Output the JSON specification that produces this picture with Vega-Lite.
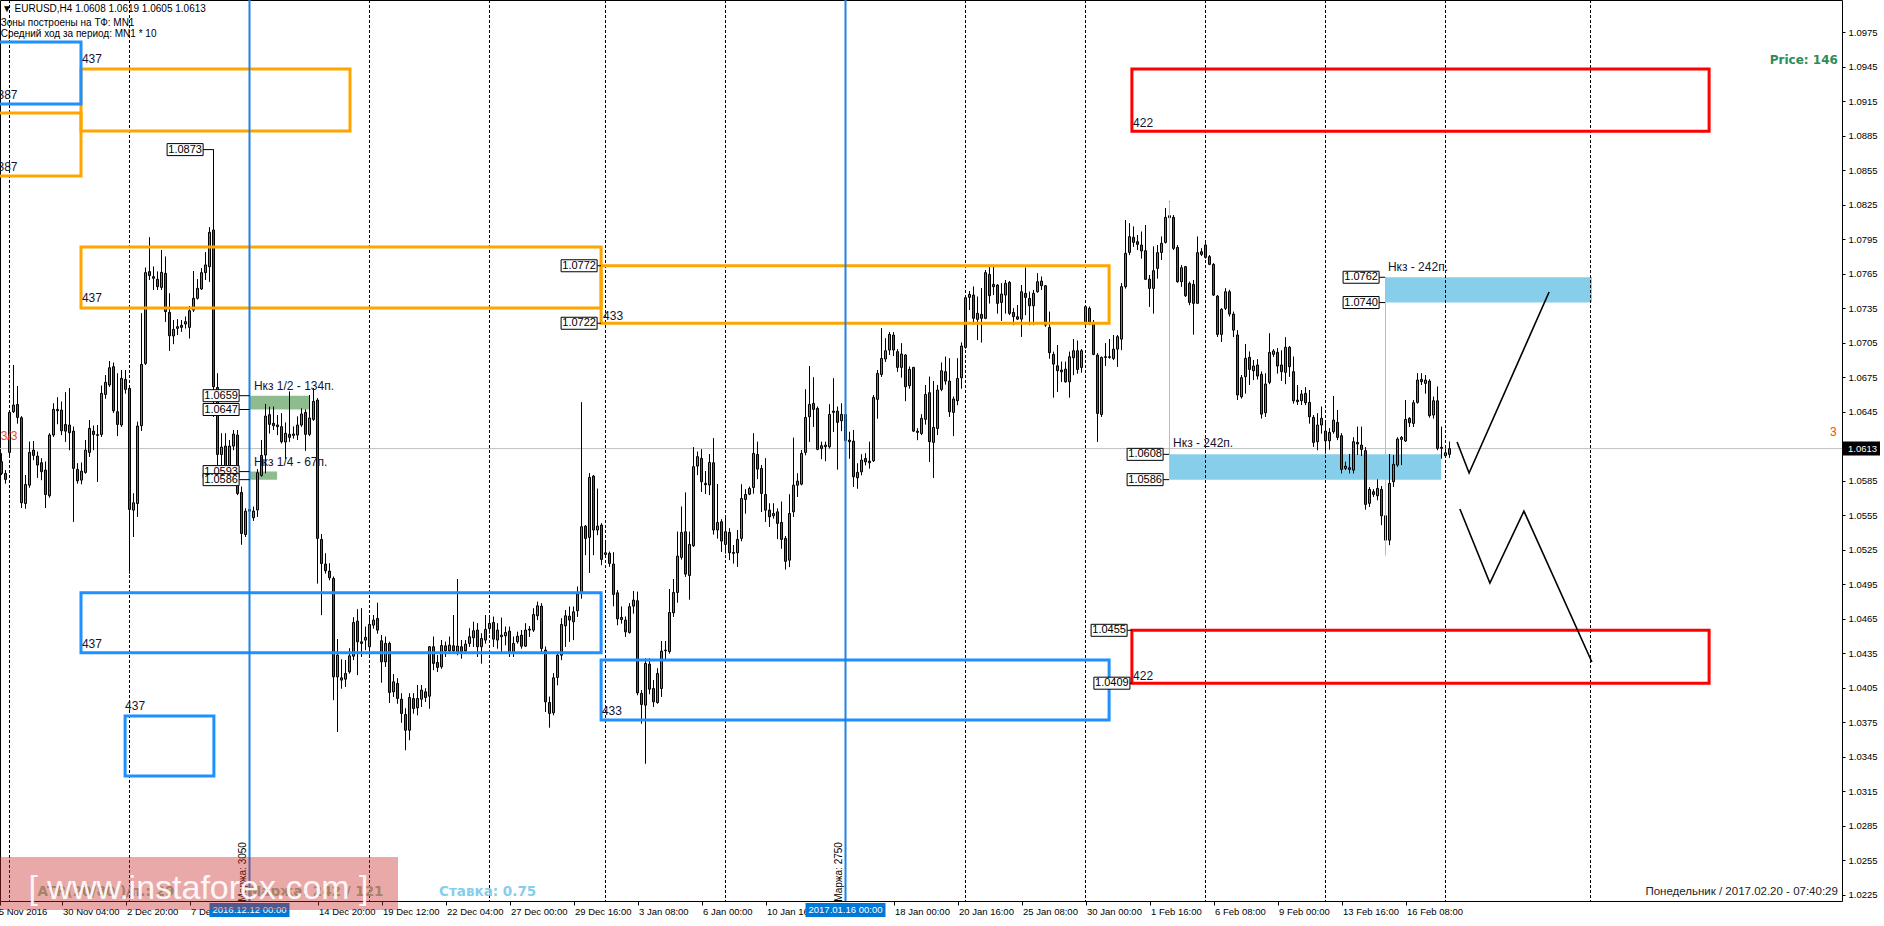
{
"$schema": "https://vega.github.io/schema/vega-lite/v6.json",
"width": 1842, "height": 901,
"autosize": {"type": "none"},
"padding": {"left": 0, "top": 0, "right": 42, "bottom": 25},
"background": "white",
"config": {"view": {"stroke": "#000", "strokeWidth": 1}, "axis": {"labelOverlap": false, "labelSeparation": 0}},
"datasets": {
"candles": [
{"i":-2,"o":1.06016,"h":1.06088,"l":1.059,"c":1.05914},
{"i":-1,"o":1.05914,"h":1.05943,"l":1.05827,"c":1.05862},
{"i":0,"o":1.06097,"h":1.06451,"l":1.06074,"c":1.06445},
{"i":1,"o":1.06451,"h":1.06857,"l":1.06442,"c":1.06509},
{"i":2,"o":1.06514,"h":1.06674,"l":1.06349,"c":1.06401},
{"i":3,"o":1.06398,"h":1.0641,"l":1.05615,"c":1.05659},
{"i":4,"o":1.05653,"h":1.059,"l":1.05609,"c":1.05818},
{"i":5,"o":1.05812,"h":1.0619,"l":1.05792,"c":1.06097},
{"i":6,"o":1.06117,"h":1.06195,"l":1.0603,"c":1.06071},
{"i":7,"o":1.06065,"h":1.06103,"l":1.05877,"c":1.05987},
{"i":8,"o":1.06007,"h":1.06045,"l":1.05856,"c":1.05929},
{"i":9,"o":1.05943,"h":1.06016,"l":1.05615,"c":1.05731},
{"i":10,"o":1.0572,"h":1.06262,"l":1.05705,"c":1.06248},
{"i":11,"o":1.06248,"h":1.06523,"l":1.06233,"c":1.06471},
{"i":12,"o":1.06471,"h":1.06575,"l":1.06343,"c":1.06459},
{"i":13,"o":1.06465,"h":1.06538,"l":1.06248,"c":1.06285},
{"i":14,"o":1.0634,"h":1.06619,"l":1.0619,"c":1.06282},
{"i":15,"o":1.06335,"h":1.06654,"l":1.06117,"c":1.06268},
{"i":16,"o":1.06282,"h":1.0632,"l":1.05494,"c":1.05958},
{"i":17,"o":1.05949,"h":1.06001,"l":1.05827,"c":1.0585},
{"i":18,"o":1.05856,"h":1.06007,"l":1.05821,"c":1.05934},
{"i":19,"o":1.05923,"h":1.06204,"l":1.05914,"c":1.06117},
{"i":20,"o":1.06097,"h":1.06378,"l":1.06059,"c":1.06306},
{"i":21,"o":1.06282,"h":1.06329,"l":1.06117,"c":1.06253},
{"i":22,"o":1.06245,"h":1.06335,"l":1.05841,"c":1.06251},
{"i":23,"o":1.06253,"h":1.06677,"l":1.06233,"c":1.0661},
{"i":24,"o":1.06601,"h":1.06769,"l":1.06566,"c":1.06706},
{"i":25,"o":1.06683,"h":1.06891,"l":1.06668,"c":1.06833},
{"i":26,"o":1.06842,"h":1.06877,"l":1.06442,"c":1.06459},
{"i":27,"o":1.06451,"h":1.06784,"l":1.06239,"c":1.0634},
{"i":28,"o":1.06335,"h":1.06813,"l":1.0632,"c":1.06741},
{"i":29,"o":1.06732,"h":1.06813,"l":1.0661,"c":1.06645},
{"i":30,"o":1.06654,"h":1.06668,"l":1.05044,"c":1.05601},
{"i":31,"o":1.05595,"h":1.0574,"l":1.05363,"c":1.05659},
{"i":32,"o":1.05653,"h":1.06363,"l":1.05537,"c":1.06326},
{"i":33,"o":1.06329,"h":1.07306,"l":1.06285,"c":1.06862},
{"i":34,"o":1.06871,"h":1.07703,"l":1.06857,"c":1.0766},
{"i":35,"o":1.07669,"h":1.07967,"l":1.07596,"c":1.07634},
{"i":36,"o":1.07625,"h":1.07712,"l":1.07509,"c":1.07611},
{"i":37,"o":1.07602,"h":1.07669,"l":1.07509,"c":1.07538},
{"i":38,"o":1.07532,"h":1.07857,"l":1.07509,"c":1.07663},
{"i":39,"o":1.07654,"h":1.07799,"l":1.07234,"c":1.07321},
{"i":40,"o":1.07315,"h":1.0748,"l":1.06981,"c":1.07112},
{"i":41,"o":1.07109,"h":1.07248,"l":1.07039,"c":1.07167},
{"i":42,"o":1.07176,"h":1.07254,"l":1.07118,"c":1.0719},
{"i":43,"o":1.07202,"h":1.07248,"l":1.07147,"c":1.07184},
{"i":44,"o":1.07213,"h":1.07277,"l":1.07176,"c":1.07234},
{"i":45,"o":1.07184,"h":1.0737,"l":1.07089,"c":1.07329},
{"i":46,"o":1.07335,"h":1.07674,"l":1.07321,"c":1.07437},
{"i":47,"o":1.07437,"h":1.07602,"l":1.07428,"c":1.07524},
{"i":48,"o":1.07518,"h":1.07698,"l":1.07509,"c":1.0766},
{"i":49,"o":1.0766,"h":1.07837,"l":1.07596,"c":1.07727},
{"i":50,"o":1.07712,"h":1.08054,"l":1.07581,"c":1.08011},
{"i":51,"o":1.08031,"h":1.0873,"l":1.06407,"c":1.06668},
{"i":52,"o":1.06662,"h":1.06784,"l":1.059,"c":1.06079},
{"i":53,"o":1.06079,"h":1.06262,"l":1.05943,"c":1.06143},
{"i":54,"o":1.06152,"h":1.06262,"l":1.05885,"c":1.059},
{"i":55,"o":1.05914,"h":1.06204,"l":1.059,"c":1.06152},
{"i":56,"o":1.06152,"h":1.06291,"l":1.06117,"c":1.06256},
{"i":57,"o":1.06248,"h":1.06291,"l":1.05726,"c":1.0574},
{"i":58,"o":1.05749,"h":1.05798,"l":1.05296,"c":1.05392},
{"i":59,"o":1.05383,"h":1.05609,"l":1.05363,"c":1.05586},
{"i":60,"o":1.05586,"h":1.0565,"l":1.0552,"c":1.056},
{"i":61,"o":1.05529,"h":1.05624,"l":1.05503,"c":1.05587},
{"i":62,"o":1.05596,"h":1.05949,"l":1.05537,"c":1.0592},
{"i":63,"o":1.05897,"h":1.06205,"l":1.05886,"c":1.06071},
{"i":64,"o":1.06074,"h":1.06518,"l":1.05915,"c":1.06413},
{"i":65,"o":1.06425,"h":1.06495,"l":1.06263,"c":1.06341},
{"i":66,"o":1.0635,"h":1.06495,"l":1.06292,"c":1.06329},
{"i":67,"o":1.06335,"h":1.06422,"l":1.06248,"c":1.06321},
{"i":68,"o":1.06321,"h":1.06437,"l":1.06176,"c":1.0619},
{"i":69,"o":1.06187,"h":1.06355,"l":1.06039,"c":1.06263},
{"i":70,"o":1.06254,"h":1.06625,"l":1.0619,"c":1.06228},
{"i":71,"o":1.06245,"h":1.06321,"l":1.06219,"c":1.06257},
{"i":72,"o":1.06248,"h":1.06408,"l":1.06205,"c":1.06335},
{"i":73,"o":1.06335,"h":1.0648,"l":1.06321,"c":1.06431},
{"i":74,"o":1.06445,"h":1.06471,"l":1.06112,"c":1.06254},
{"i":75,"o":1.06254,"h":1.06596,"l":1.06239,"c":1.06396},
{"i":76,"o":1.06384,"h":1.06654,"l":1.06373,"c":1.06541},
{"i":77,"o":1.06552,"h":1.06567,"l":1.04958,"c":1.05349},
{"i":78,"o":1.0534,"h":1.05387,"l":1.04682,"c":1.05131},
{"i":79,"o":1.05126,"h":1.05218,"l":1.05045,"c":1.05068},
{"i":80,"o":1.05065,"h":1.05131,"l":1.04986,"c":1.05007},
{"i":81,"o":1.05001,"h":1.05016,"l":1.03943,"c":1.04145},
{"i":82,"o":1.04145,"h":1.04473,"l":1.03667,"c":1.04334},
{"i":83,"o":1.04137,"h":1.04297,"l":1.04044,"c":1.04117},
{"i":84,"o":1.04125,"h":1.04291,"l":1.04059,"c":1.04175},
{"i":85,"o":1.04189,"h":1.04392,"l":1.04175,"c":1.04328},
{"i":86,"o":1.04325,"h":1.04662,"l":1.04291,"c":1.04618},
{"i":87,"o":1.0463,"h":1.04732,"l":1.04161,"c":1.0445},
{"i":88,"o":1.0445,"h":1.0474,"l":1.0432,"c":1.04436},
{"i":89,"o":1.04465,"h":1.04581,"l":1.04378,"c":1.04489},
{"i":90,"o":1.04407,"h":1.04668,"l":1.04334,"c":1.04601},
{"i":91,"o":1.04595,"h":1.04682,"l":1.04566,"c":1.04639},
{"i":92,"o":1.04653,"h":1.04789,"l":1.04523,"c":1.04552},
{"i":93,"o":1.04459,"h":1.04508,"l":1.04096,"c":1.04276},
{"i":94,"o":1.04276,"h":1.04494,"l":1.04233,"c":1.04436},
{"i":95,"o":1.04436,"h":1.0445,"l":1.03919,"c":1.0401},
{"i":96,"o":1.04015,"h":1.04169,"l":1.03972,"c":1.04102},
{"i":97,"o":1.04088,"h":1.04131,"l":1.03913,"c":1.03957},
{"i":98,"o":1.03951,"h":1.04001,"l":1.03748,"c":1.03827},
{"i":99,"o":1.03818,"h":1.0387,"l":1.03508,"c":1.03681},
{"i":100,"o":1.03681,"h":1.04001,"l":1.03595,"c":1.03966},
{"i":101,"o":1.03957,"h":1.04001,"l":1.03827,"c":1.0387},
{"i":102,"o":1.03876,"h":1.04073,"l":1.03812,"c":1.03957},
{"i":103,"o":1.03951,"h":1.04073,"l":1.03884,"c":1.0403},
{"i":104,"o":1.04015,"h":1.04044,"l":1.03928,"c":1.03966},
{"i":105,"o":1.03977,"h":1.04413,"l":1.0387,"c":1.04407},
{"i":106,"o":1.04407,"h":1.04494,"l":1.04204,"c":1.04262},
{"i":107,"o":1.0427,"h":1.04334,"l":1.04189,"c":1.04227},
{"i":108,"o":1.04233,"h":1.04465,"l":1.04218,"c":1.04418},
{"i":109,"o":1.04415,"h":1.0445,"l":1.0432,"c":1.04372},
{"i":110,"o":1.04372,"h":1.04494,"l":1.04349,"c":1.04421},
{"i":111,"o":1.04415,"h":1.04682,"l":1.04349,"c":1.04372},
{"i":112,"o":1.04363,"h":1.04995,"l":1.04334,"c":1.04413},
{"i":113,"o":1.04407,"h":1.04465,"l":1.04305,"c":1.04363},
{"i":114,"o":1.04372,"h":1.04465,"l":1.04355,"c":1.0443},
{"i":115,"o":1.04436,"h":1.04566,"l":1.04407,"c":1.04494},
{"i":116,"o":1.04485,"h":1.04624,"l":1.04407,"c":1.04546},
{"i":117,"o":1.04552,"h":1.0461,"l":1.0432,"c":1.04407},
{"i":118,"o":1.04407,"h":1.04523,"l":1.04262,"c":1.04479},
{"i":119,"o":1.04465,"h":1.04682,"l":1.04436,"c":1.04558},
{"i":120,"o":1.04566,"h":1.04653,"l":1.04523,"c":1.0461},
{"i":121,"o":1.04618,"h":1.04668,"l":1.04407,"c":1.04473},
{"i":122,"o":1.04465,"h":1.0461,"l":1.04392,"c":1.04552},
{"i":123,"o":1.04494,"h":1.04659,"l":1.04363,"c":1.04508},
{"i":124,"o":1.04502,"h":1.04581,"l":1.04421,"c":1.04531},
{"i":125,"o":1.04543,"h":1.04581,"l":1.0432,"c":1.04349},
{"i":126,"o":1.04354,"h":1.04494,"l":1.0432,"c":1.04436},
{"i":127,"o":1.0445,"h":1.04537,"l":1.04436,"c":1.04499},
{"i":128,"o":1.04508,"h":1.04552,"l":1.04392,"c":1.04412},
{"i":129,"o":1.04412,"h":1.0461,"l":1.04407,"c":1.04552},
{"i":130,"o":1.04552,"h":1.04586,"l":1.04494,"c":1.0456},
{"i":131,"o":1.04552,"h":1.0474,"l":1.04537,"c":1.04688},
{"i":132,"o":1.04676,"h":1.04798,"l":1.04639,"c":1.04763},
{"i":133,"o":1.0476,"h":1.04784,"l":1.04349,"c":1.04392},
{"i":134,"o":1.04378,"h":1.04407,"l":1.03841,"c":1.03928},
{"i":135,"o":1.03922,"h":1.03972,"l":1.03705,"c":1.03827},
{"i":136,"o":1.03832,"h":1.04175,"l":1.03812,"c":1.04137},
{"i":137,"o":1.0414,"h":1.04363,"l":1.04073,"c":1.04334},
{"i":138,"o":1.04334,"h":1.04653,"l":1.04291,"c":1.04601},
{"i":139,"o":1.04589,"h":1.04726,"l":1.04407,"c":1.04676},
{"i":140,"o":1.04673,"h":1.04755,"l":1.0445,"c":1.04639},
{"i":141,"o":1.04624,"h":1.04755,"l":1.04465,"c":1.04711},
{"i":142,"o":1.0472,"h":1.04929,"l":1.04668,"c":1.04865},
{"i":143,"o":1.04876,"h":1.06532,"l":1.04827,"c":1.05451},
{"i":144,"o":1.05456,"h":1.05465,"l":1.05204,"c":1.05349},
{"i":145,"o":1.05358,"h":1.05915,"l":1.0505,"c":1.0588},
{"i":146,"o":1.05891,"h":1.059,"l":1.05204,"c":1.05422},
{"i":147,"o":1.05422,"h":1.05781,"l":1.05378,"c":1.05456},
{"i":148,"o":1.05465,"h":1.0548,"l":1.05117,"c":1.05166},
{"i":149,"o":1.0521,"h":1.0532,"l":1.0519,"c":1.05224},
{"i":150,"o":1.05219,"h":1.05233,"l":1.05103,"c":1.05132},
{"i":151,"o":1.05126,"h":1.05227,"l":1.0476,"c":1.04862},
{"i":152,"o":1.04876,"h":1.049,"l":1.04595,"c":1.0465},
{"i":153,"o":1.04662,"h":1.04755,"l":1.0461,"c":1.04644},
{"i":154,"o":1.04639,"h":1.04668,"l":1.04494,"c":1.04537},
{"i":155,"o":1.04531,"h":1.04784,"l":1.04523,"c":1.04755},
{"i":156,"o":1.0476,"h":1.04891,"l":1.04697,"c":1.04813},
{"i":157,"o":1.04807,"h":1.04885,"l":1.03986,"c":1.04006},
{"i":158,"o":1.04001,"h":1.0403,"l":1.0374,"c":1.03905},
{"i":159,"o":1.03899,"h":1.04305,"l":1.03392,"c":1.04262},
{"i":160,"o":1.04256,"h":1.04305,"l":1.03995,"c":1.04038},
{"i":161,"o":1.04044,"h":1.04117,"l":1.03885,"c":1.03928},
{"i":162,"o":1.03922,"h":1.04218,"l":1.03914,"c":1.04175},
{"i":163,"o":1.04044,"h":1.04456,"l":1.03972,"c":1.04369},
{"i":164,"o":1.04372,"h":1.04456,"l":1.04296,"c":1.04378},
{"i":165,"o":1.04366,"h":1.04908,"l":1.04349,"c":1.04705},
{"i":166,"o":1.04702,"h":1.04995,"l":1.04668,"c":1.04879},
{"i":167,"o":1.04879,"h":1.05407,"l":1.04792,"c":1.05195},
{"i":168,"o":1.05184,"h":1.05625,"l":1.05166,"c":1.05401},
{"i":169,"o":1.05407,"h":1.05747,"l":1.05016,"c":1.05039},
{"i":170,"o":1.05027,"h":1.05407,"l":1.04818,"c":1.05297},
{"i":171,"o":1.05285,"h":1.06141,"l":1.05277,"c":1.05973},
{"i":172,"o":1.05978,"h":1.06103,"l":1.059,"c":1.0606},
{"i":173,"o":1.06045,"h":1.06123,"l":1.05755,"c":1.05842},
{"i":174,"o":1.05828,"h":1.05935,"l":1.05735,"c":1.05816},
{"i":175,"o":1.05813,"h":1.06083,"l":1.05726,"c":1.0601},
{"i":176,"o":1.06007,"h":1.06219,"l":1.05384,"c":1.05422},
{"i":177,"o":1.05422,"h":1.05822,"l":1.05349,"c":1.05488},
{"i":178,"o":1.05494,"h":1.05514,"l":1.05233,"c":1.05326},
{"i":179,"o":1.05297,"h":1.05543,"l":1.05219,"c":1.05407},
{"i":180,"o":1.05401,"h":1.05436,"l":1.05161,"c":1.05224},
{"i":181,"o":1.05227,"h":1.05291,"l":1.05132,"c":1.05219},
{"i":182,"o":1.05224,"h":1.05422,"l":1.05103,"c":1.0534},
{"i":183,"o":1.05349,"h":1.05818,"l":1.05325,"c":1.05696},
{"i":184,"o":1.05688,"h":1.05775,"l":1.05566,"c":1.05731},
{"i":185,"o":1.05734,"h":1.05798,"l":1.05726,"c":1.05783},
{"i":186,"o":1.05792,"h":1.06262,"l":1.0574,"c":1.06088},
{"i":187,"o":1.06079,"h":1.06189,"l":1.05865,"c":1.05952},
{"i":188,"o":1.05958,"h":1.05987,"l":1.0558,"c":1.0574},
{"i":189,"o":1.05731,"h":1.06045,"l":1.05494,"c":1.05595},
{"i":190,"o":1.05595,"h":1.05653,"l":1.0545,"c":1.05537},
{"i":191,"o":1.05546,"h":1.05653,"l":1.05523,"c":1.05566},
{"i":192,"o":1.0558,"h":1.05609,"l":1.05343,"c":1.05479},
{"i":193,"o":1.05488,"h":1.05668,"l":1.05261,"c":1.0534},
{"i":194,"o":1.05349,"h":1.0537,"l":1.0508,"c":1.0515},
{"i":195,"o":1.0516,"h":1.05731,"l":1.051,"c":1.05566},
{"i":196,"o":1.0558,"h":1.06224,"l":1.05537,"c":1.05812},
{"i":197,"o":1.05812,"h":1.05914,"l":1.05711,"c":1.05847},
{"i":198,"o":1.05821,"h":1.06117,"l":1.05812,"c":1.06088},
{"i":199,"o":1.06097,"h":1.06645,"l":1.06073,"c":1.06401},
{"i":200,"o":1.06407,"h":1.06848,"l":1.0619,"c":1.06514},
{"i":201,"o":1.06523,"h":1.06749,"l":1.0632,"c":1.06471},
{"i":202,"o":1.06479,"h":1.06494,"l":1.06117,"c":1.06123},
{"i":203,"o":1.06131,"h":1.06189,"l":1.06039,"c":1.06155},
{"i":204,"o":1.06146,"h":1.06189,"l":1.06021,"c":1.0616},
{"i":205,"o":1.06146,"h":1.06514,"l":1.06131,"c":1.06427},
{"i":206,"o":1.06445,"h":1.0674,"l":1.06277,"c":1.06456},
{"i":207,"o":1.06456,"h":1.06494,"l":1.05949,"c":1.06358},
{"i":208,"o":1.06372,"h":1.06523,"l":1.06282,"c":1.06427},
{"i":209,"o":1.06427,"h":1.0645,"l":1.0615,"c":1.062},
{"i":210,"o":1.0619,"h":1.06276,"l":1.06044,"c":1.06204},
{"i":211,"o":1.06195,"h":1.06291,"l":1.05798,"c":1.05885},
{"i":212,"o":1.05876,"h":1.06001,"l":1.05783,"c":1.05923},
{"i":213,"o":1.05928,"h":1.06079,"l":1.05899,"c":1.0603},
{"i":214,"o":1.06044,"h":1.06088,"l":1.05986,"c":1.06015},
{"i":215,"o":1.06021,"h":1.06189,"l":1.05958,"c":1.06007},
{"i":216,"o":1.06024,"h":1.06596,"l":1.06015,"c":1.06575},
{"i":217,"o":1.06558,"h":1.06813,"l":1.06392,"c":1.06784},
{"i":218,"o":1.06775,"h":1.07176,"l":1.06755,"c":1.06914},
{"i":219,"o":1.06909,"h":1.07088,"l":1.06885,"c":1.06981},
{"i":220,"o":1.06987,"h":1.07141,"l":1.06944,"c":1.07123},
{"i":221,"o":1.07117,"h":1.07141,"l":1.06935,"c":1.06987},
{"i":222,"o":1.06973,"h":1.06996,"l":1.06799,"c":1.06836},
{"i":223,"o":1.06836,"h":1.07045,"l":1.06749,"c":1.06952},
{"i":224,"o":1.06944,"h":1.06949,"l":1.06543,"c":1.06668},
{"i":225,"o":1.06677,"h":1.06842,"l":1.06653,"c":1.06819},
{"i":226,"o":1.06836,"h":1.0684,"l":1.06277,"c":1.06282},
{"i":227,"o":1.06282,"h":1.06305,"l":1.06204,"c":1.06271},
{"i":228,"o":1.06262,"h":1.06427,"l":1.06248,"c":1.06393},
{"i":229,"o":1.06384,"h":1.06682,"l":1.0634,"c":1.06601},
{"i":230,"o":1.06616,"h":1.06755,"l":1.06015,"c":1.0619},
{"i":231,"o":1.06184,"h":1.06717,"l":1.05876,"c":1.06314},
{"i":232,"o":1.06305,"h":1.06682,"l":1.06248,"c":1.06639},
{"i":233,"o":1.06645,"h":1.06877,"l":1.0663,"c":1.06807},
{"i":234,"o":1.06799,"h":1.06929,"l":1.06688,"c":1.06717},
{"i":235,"o":1.06717,"h":1.06914,"l":1.06407,"c":1.0645},
{"i":236,"o":1.06445,"h":1.06581,"l":1.06239,"c":1.06561},
{"i":237,"o":1.06546,"h":1.06914,"l":1.06508,"c":1.0674},
{"i":238,"o":1.06746,"h":1.07051,"l":1.06653,"c":1.07022},
{"i":239,"o":1.0701,"h":1.07465,"l":1.07001,"c":1.07442},
{"i":240,"o":1.07445,"h":1.075,"l":1.07335,"c":1.07471},
{"i":241,"o":1.07465,"h":1.07538,"l":1.0721,"c":1.07263},
{"i":242,"o":1.07254,"h":1.07451,"l":1.07074,"c":1.07306},
{"i":243,"o":1.07297,"h":1.07524,"l":1.07054,"c":1.07263},
{"i":244,"o":1.07262,"h":1.07683,"l":1.07256,"c":1.0766},
{"i":245,"o":1.07645,"h":1.0772,"l":1.07393,"c":1.0746},
{"i":246,"o":1.07558,"h":1.07718,"l":1.07465,"c":1.07538},
{"i":247,"o":1.07552,"h":1.07558,"l":1.07306,"c":1.07393},
{"i":248,"o":1.07401,"h":1.07567,"l":1.07242,"c":1.07474},
{"i":249,"o":1.07465,"h":1.07596,"l":1.07306,"c":1.07567},
{"i":250,"o":1.07575,"h":1.07587,"l":1.07291,"c":1.07306},
{"i":251,"o":1.07314,"h":1.07349,"l":1.07204,"c":1.07277},
{"i":252,"o":1.07277,"h":1.07378,"l":1.07248,"c":1.07256},
{"i":253,"o":1.07256,"h":1.07552,"l":1.07103,"c":1.07494},
{"i":254,"o":1.0748,"h":1.07703,"l":1.07291,"c":1.07445},
{"i":255,"o":1.07436,"h":1.07494,"l":1.07204,"c":1.07372},
{"i":256,"o":1.07372,"h":1.07509,"l":1.07204,"c":1.0748},
{"i":257,"o":1.07494,"h":1.07654,"l":1.07488,"c":1.07581},
{"i":258,"o":1.07587,"h":1.07625,"l":1.07509,"c":1.07546},
{"i":259,"o":1.07546,"h":1.07552,"l":1.0719,"c":1.07204},
{"i":260,"o":1.07184,"h":1.0732,"l":1.06914,"c":1.06964},
{"i":261,"o":1.06949,"h":1.06972,"l":1.06575,"c":1.06865},
{"i":262,"o":1.0685,"h":1.0703,"l":1.06624,"c":1.06807},
{"i":263,"o":1.06798,"h":1.06885,"l":1.06711,"c":1.06813},
{"i":264,"o":1.06821,"h":1.06885,"l":1.06705,"c":1.06711},
{"i":265,"o":1.06711,"h":1.06972,"l":1.06575,"c":1.06929},
{"i":266,"o":1.0692,"h":1.07082,"l":1.06769,"c":1.06981},
{"i":267,"o":1.06981,"h":1.07068,"l":1.06784,"c":1.06818},
{"i":268,"o":1.06836,"h":1.06995,"l":1.06792,"c":1.06981},
{"i":269,"o":1.07213,"h":1.07378,"l":1.07204,"c":1.07364},
{"i":270,"o":1.07349,"h":1.07364,"l":1.07204,"c":1.07219},
{"i":271,"o":1.07219,"h":1.07248,"l":1.06943,"c":1.06949},
{"i":272,"o":1.06943,"h":1.06958,"l":1.06189,"c":1.06436},
{"i":273,"o":1.06427,"h":1.06929,"l":1.06407,"c":1.06923},
{"i":274,"o":1.06923,"h":1.07045,"l":1.0685,"c":1.06929},
{"i":275,"o":1.06923,"h":1.07082,"l":1.06914,"c":1.06929},
{"i":276,"o":1.06914,"h":1.07117,"l":1.069,"c":1.06995},
{"i":277,"o":1.06995,"h":1.07117,"l":1.06842,"c":1.07103},
{"i":278,"o":1.07082,"h":1.07567,"l":1.06987,"c":1.07538},
{"i":279,"o":1.07538,"h":1.08118,"l":1.07523,"c":1.07828},
{"i":280,"o":1.07836,"h":1.08089,"l":1.07813,"c":1.07973},
{"i":281,"o":1.07967,"h":1.0806,"l":1.07886,"c":1.07923},
{"i":282,"o":1.07929,"h":1.07987,"l":1.07857,"c":1.07906},
{"i":283,"o":1.079,"h":1.08016,"l":1.07784,"c":1.07848},
{"i":284,"o":1.07851,"h":1.08074,"l":1.07596,"c":1.07602},
{"i":285,"o":1.07604,"h":1.07639,"l":1.07364,"c":1.07523},
{"i":286,"o":1.07523,"h":1.07886,"l":1.07306,"c":1.07677},
{"i":287,"o":1.07697,"h":1.079,"l":1.0761,"c":1.07834},
{"i":288,"o":1.07836,"h":1.07973,"l":1.0777,"c":1.07915},
{"i":289,"o":1.07923,"h":1.0822,"l":1.07915,"c":1.08141},
{"i":290,"o":1.08155,"h":1.0828,"l":1.08126,"c":1.08138},
{"i":291,"o":1.08141,"h":1.08161,"l":1.07857,"c":1.07871},
{"i":292,"o":1.0788,"h":1.079,"l":1.07575,"c":1.07581},
{"i":293,"o":1.07581,"h":1.07726,"l":1.07538,"c":1.07703},
{"i":294,"o":1.07712,"h":1.07718,"l":1.07451,"c":1.07459},
{"i":295,"o":1.07567,"h":1.07581,"l":1.07378,"c":1.07401},
{"i":296,"o":1.07558,"h":1.07596,"l":1.07123,"c":1.07393},
{"i":297,"o":1.07393,"h":1.07973,"l":1.07552,"c":1.07834},
{"i":298,"o":1.07842,"h":1.07871,"l":1.07805,"c":1.07819},
{"i":299,"o":1.079,"h":1.07915,"l":1.07784,"c":1.07793},
{"i":300,"o":1.07799,"h":1.07813,"l":1.07726,"c":1.07732},
{"i":301,"o":1.07732,"h":1.07741,"l":1.07459,"c":1.07465},
{"i":302,"o":1.07456,"h":1.07465,"l":1.07103,"c":1.07123},
{"i":303,"o":1.07123,"h":1.07349,"l":1.07059,"c":1.07341},
{"i":304,"o":1.07349,"h":1.07523,"l":1.07335,"c":1.07494},
{"i":305,"o":1.07494,"h":1.0751,"l":1.0728,"c":1.073},
{"i":306,"o":1.073,"h":1.0732,"l":1.071,"c":1.0716},
{"i":307,"o":1.07118,"h":1.07161,"l":1.06553,"c":1.06596},
{"i":308,"o":1.06581,"h":1.0677,"l":1.06567,"c":1.06747},
{"i":309,"o":1.06755,"h":1.07039,"l":1.0661,"c":1.06915},
{"i":310,"o":1.06924,"h":1.06973,"l":1.06683,"c":1.06819},
{"i":311,"o":1.06807,"h":1.069,"l":1.06726,"c":1.06848},
{"i":312,"o":1.06857,"h":1.06906,"l":1.06732,"c":1.06761},
{"i":313,"o":1.06776,"h":1.06799,"l":1.06393,"c":1.0643},
{"i":314,"o":1.06442,"h":1.06784,"l":1.06407,"c":1.06691},
{"i":315,"o":1.06706,"h":1.07132,"l":1.06691,"c":1.06967},
{"i":316,"o":1.0695,"h":1.06993,"l":1.06929,"c":1.06979},
{"i":317,"o":1.06967,"h":1.07002,"l":1.06784,"c":1.06848},
{"i":318,"o":1.06857,"h":1.06982,"l":1.0672,"c":1.06799},
{"i":319,"o":1.06793,"h":1.07097,"l":1.06691,"c":1.07011},
{"i":320,"o":1.07011,"h":1.07022,"l":1.06755,"c":1.06842},
{"i":321,"o":1.06799,"h":1.06929,"l":1.06523,"c":1.06546},
{"i":322,"o":1.06552,"h":1.06683,"l":1.06509,"c":1.06538},
{"i":323,"o":1.06546,"h":1.06639,"l":1.06509,"c":1.06604},
{"i":324,"o":1.0661,"h":1.06662,"l":1.06509,"c":1.06529},
{"i":325,"o":1.06532,"h":1.06639,"l":1.06349,"c":1.06407},
{"i":326,"o":1.06401,"h":1.06422,"l":1.06146,"c":1.06184},
{"i":327,"o":1.0619,"h":1.06436,"l":1.06117,"c":1.06335},
{"i":328,"o":1.06335,"h":1.06494,"l":1.06262,"c":1.06393},
{"i":329,"o":1.06283,"h":1.06364,"l":1.06088,"c":1.06198},
{"i":330,"o":1.06198,"h":1.06306,"l":1.06123,"c":1.06271},
{"i":331,"o":1.06277,"h":1.06587,"l":1.06262,"c":1.06378},
{"i":332,"o":1.06358,"h":1.06465,"l":1.06204,"c":1.06227},
{"i":333,"o":1.06242,"h":1.06262,"l":1.05914,"c":1.05949},
{"i":334,"o":1.05958,"h":1.06016,"l":1.05943,"c":1.05978},
{"i":335,"o":1.05964,"h":1.06083,"l":1.05914,"c":1.05949},
{"i":336,"o":1.05943,"h":1.06227,"l":1.05914,"c":1.0619},
{"i":337,"o":1.06184,"h":1.0632,"l":1.06074,"c":1.0617},
{"i":338,"o":1.06161,"h":1.0632,"l":1.06065,"c":1.06123},
{"i":339,"o":1.06112,"h":1.06141,"l":1.05601,"c":1.05645},
{"i":340,"o":1.05654,"h":1.05793,"l":1.05624,"c":1.05775},
{"i":341,"o":1.05755,"h":1.05775,"l":1.05711,"c":1.05732},
{"i":342,"o":1.0572,"h":1.05862,"l":1.05682,"c":1.05784},
{"i":343,"o":1.05775,"h":1.05804,"l":1.05465,"c":1.05546},
{"i":344,"o":1.05546,"h":1.05552,"l":1.0521,"c":1.05334},
{"i":345,"o":1.05334,"h":1.06083,"l":1.05291,"c":1.05827},
{"i":346,"o":1.05842,"h":1.06074,"l":1.05798,"c":1.05993},
{"i":347,"o":1.05987,"h":1.06227,"l":1.05972,"c":1.06213},
{"i":348,"o":1.0621,"h":1.06239,"l":1.05987,"c":1.06227},
{"i":349,"o":1.06196,"h":1.06552,"l":1.0619,"c":1.06384},
{"i":350,"o":1.06393,"h":1.06401,"l":1.0632,"c":1.06355},
{"i":351,"o":1.06349,"h":1.06552,"l":1.0632,"c":1.06529},
{"i":352,"o":1.06532,"h":1.06784,"l":1.06523,"c":1.06726},
{"i":353,"o":1.06732,"h":1.06784,"l":1.06683,"c":1.06712},
{"i":354,"o":1.06697,"h":1.0677,"l":1.0661,"c":1.06726},
{"i":355,"o":1.06717,"h":1.06732,"l":1.06401,"c":1.06416},
{"i":356,"o":1.06422,"h":1.06581,"l":1.06393,"c":1.06546},
{"i":357,"o":1.06546,"h":1.06668,"l":1.06117,"c":1.06132},
{"i":358,"o":1.06141,"h":1.0632,"l":1.06045,"c":1.06132},
{"i":359,"o":1.06068,"h":1.06132,"l":1.06054,"c":1.06094},
{"i":360,"o":1.0608,"h":1.0619,"l":1.0605,"c":1.0613}
],
"grid": [{"i":0},{"i":30},{"i":60},{"i":90},{"i":120},{"i":149},{"i":179},{"i":209},{"i":239},{"i":269},{"i":299},{"i":329},{"i":359},{"i":395.25}],
"mline": [{"p":1.0613}],
"fills": [
{"i":60.1,"i2":74.9,"p":1.0659,"p2":1.0647,"kind":"Нкз 1/2"},
{"i":60.1,"i2":66.9,"p":1.0593,"p2":1.0586,"kind":"Нкз 1/4"},
{"i":289.9,"i2":357.9,"p":1.0608,"p2":1.0586,"kind":"Нкз"},
{"i":343.9,"i2":395.6,"p":1.0762,"p2":1.074,"kind":"Нкз"}
],
"zones": [
{"i":-5,"i2":17.875,"p":1.09048,"p2":1.085,"set":"sell"},
{"i":17.875,"i2":85.125,"p":1.09431,"p2":1.08892,"set":"sell"},
{"i":17.875,"i2":147.9,"p":1.07883,"p2":1.07353,"set":"sell"},
{"i":147.9,"i2":274.9,"p":1.0772,"p2":1.0722,"set":"sell"},
{"i":-5,"i2":17.875,"p":1.09666,"p2":1.09127,"set":"buy"},
{"i":17.875,"i2":147.9,"p":1.04877,"p2":1.04355,"set":"buy"},
{"i":147.9,"i2":274.9,"p":1.04292,"p2":1.0377,"set":"buy"},
{"i":28.9,"i2":51.1,"p":1.03805,"p2":1.03283,"set":"buy"},
{"i":280.6,"i2":424.9,"p":1.0943,"p2":1.0889,"set":"month"},
{"i":280.6,"i2":424.9,"p":1.0455,"p2":1.0409,"set":"month"}
],
"vlines": [{"i":60},{"i":209}],
"nkzlines": [{"i":290,"p":1.0608,"p2":1.0828},{"i":344,"p":1.052,"p2":1.0762}],
"forecast": [
{"seg":"up","k":0,"i":361.9,"p":1.06187},
{"seg":"up","k":1,"i":364.9,"p":1.05918},
{"seg":"up","k":2,"i":384.9,"p":1.07492},
{"seg":"down","k":0,"i":362.6,"p":1.05605},
{"seg":"down","k":1,"i":370.1,"p":1.04961},
{"seg":"down","k":2,"i":378.6,"p":1.05587},
{"seg":"down","k":3,"i":395.6,"p":1.04274}
],
"tags": [
{"t":"1.0873","p":1.0873,"i":48.4,"i2":51},
{"t":"1.0659","p":1.0659,"i":57.4,"i2":60},
{"t":"1.0647","p":1.0647,"i":57.4,"i2":60},
{"t":"1.0593","p":1.0593,"i":57.4,"i2":60},
{"t":"1.0586","p":1.0586,"i":57.4,"i2":60},
{"t":"1.0772","p":1.0772,"i":146.9,"i2":147.9},
{"t":"1.0722","p":1.0722,"i":146.9,"i2":147.9},
{"t":"1.0455","p":1.0455,"i":279.4,"i2":280.6},
{"t":"1.0409","p":1.0409,"i":280.1,"i2":280.6},
{"t":"1.0608","p":1.0608,"i":288.4,"i2":289.9},
{"t":"1.0586","p":1.0586,"i":288.4,"i2":289.9},
{"t":"1.0762","p":1.0762,"i":342.4,"i2":343.9},
{"t":"1.0740","p":1.074,"i":342.4,"i2":343.9}
],
"labels": [
{"t":"437","i":18.1,"p":1.09518},
{"t":"387","i":-3,"p":1.09204},
{"t":"387","i":-3,"p":1.08579},
{"t":"437","i":18.1,"p":1.0744},
{"t":"433","i":148.4,"p":1.07283},
{"t":"437","i":18.1,"p":1.04431},
{"t":"433","i":148.1,"p":1.03848},
{"t":"437","i":28.9,"p":1.03892},
{"t":"422","i":280.9,"p":1.08961},
{"t":"422","i":280.9,"p":1.04153},
{"t":"Нкз 1/2 - 134п.","i":61.1,"p":1.06676},
{"t":"Нкз 1/4 - 67п.","i":61.1,"p":1.06013},
{"t":"Нкз - 242п.","i":344.6,"p":1.0771},
{"t":"Нкз - 242п.","i":290.9,"p":1.06179}
],
"info": [
{"t":"▼ EURUSD,H4  1.0608 1.0619 1.0605 1.0613","i":-1.9,"p":1.09953},
{"t":"Зоны построены на ТФ: MN1","i":-2.2,"p":1.09831},
{"t":"Средний ход за период: MN1 * 10","i":-2.2,"p":1.09735}
],
"price": [{"t":"Price: 146","i":457.1,"p":1.09509}],
"counts": [{"t":"3","i":455.1,"p":1.06274},{"t":"3/3","i":-2.2,"p":1.0624}],
"bottom": [
{"t":"ATR(20/80 )/п.: 29","i":7.0,"p":1.02274,"kind":"atr"},
{"t":"Маржа: 242 / 121","i":59.6,"p":1.02274,"kind":"margin"},
{"t":"Ставка: 0.75","i":107.4,"p":1.02274,"kind":"rate"}
],
"marks": [{"t":"2016.12.12 00:00","i":60,"p":1.02118},{"t":"2017.01.16 00:00","i":209,"p":1.02118}],
"margins": [{"t":"Маржа: 3050","i":59.6,"p":1.0219},{"t":"Маржа: 2750","i":208.6,"p":1.0219}],
"wm": [{"i":-2.375,"i2":97.125,"p":1.02579,"p2":1.02118}],
"wmtext": [{"t":"[ www.instaforex.com ]","i":47.25,"p":1.02301}],
"cur": [{"t":"1.0613","i":458.125,"p":1.0613}],
"clock": [{"t":"Понедельник / 2017.02.20 - 07:40:29","i":457.1,"p":1.02274}]
},
"layer": [
{"data":{"name":"candles"},"mark":{"type":"rule","color":"#000","strokeWidth":1},
 "encoding":{
  "x":{"field":"i","type":"quantitative","scale":{"domain":[-2.375,458.125],"nice":false,"zero":false},
   "axis":{"orient":"bottom","title":null,"grid":false,"domain":false,"ticks":true,"tickSize":4,"tickColor":"#000","tickCount":60,
    "values":[-2.375,13,29,45,77,93,109,125,141,157,173,189,221,237,253,269,285,301,317,333,349],
    "labelExpr":"datum.value < 0 ? '25 Nov 2016' : ['30 Nov 04:00','2 Dec 20:00','7 Dec 12:00','14 Dec 20:00','19 Dec 12:00','22 Dec 04:00','27 Dec 00:00','29 Dec 16:00','3 Jan 08:00','6 Jan 00:00','10 Jan 16:00','18 Jan 00:00','20 Jan 16:00','25 Jan 08:00','30 Jan 00:00','1 Feb 16:00','6 Feb 08:00','9 Feb 00:00','13 Feb 16:00','16 Feb 08:00'][indexof([13,29,45,77,93,109,125,141,157,173,189,221,237,253,269,285,301,317,333,349], datum.value)]",
    "labelAlign":"left","labelBaseline":"top","labelPadding":1,
    "labelOffset":{"condition":{"test":"datum.value < 0","value":-7},"value":1},
    "labelFont":"Liberation Sans","labelFontSize":9.5,"labelColor":"#000","labelOverlap":false,"labelFlush":false,"labelBound":false}},
  "y":{"field":"l","type":"quantitative","scale":{"domain":[1.021961,1.100309],"nice":false,"zero":false},
   "axis":{"orient":"right","title":null,"grid":false,"domain":false,"tickSize":3,"tickColor":"#000","tickCount":60,
    "values":[1.0225,1.0255,1.0285,1.0315,1.0345,1.0375,1.0405,1.0435,1.0465,1.0495,1.0525,1.0555,1.0585,1.0615,1.0645,1.0675,1.0705,1.0735,1.0765,1.0795,1.0825,1.0855,1.0885,1.0915,1.0945,1.0975],
    "format":".4f","labelPadding":3,"labelFont":"Liberation Sans","labelFontSize":9.5,"labelColor":"#000","labelOverlap":false,"labelSeparation":0,"labelFlush":false,"labelBound":false}},
  "y2":{"field":"h"}}},
{"data":{"name":"fills"},"mark":{"type":"rect","opacity":1},
 "encoding":{"x":{"field":"i","type":"quantitative"},"x2":{"field":"i2"},
 "y":{"field":"p","type":"quantitative"},"y2":{"field":"p2"},
 "color":{"field":"kind","type":"nominal","scale":{"domain":["Нкз 1/2","Нкз 1/4","Нкз"],"range":["#8FBC8F","#8FBC8F","#87CEEB"]},"legend":null}}},
{"data":{"name":"mline"},"mark":{"type":"rule","color":"#C0C0C0","strokeWidth":1},
 "encoding":{"y":{"field":"p","type":"quantitative"}}},
{"data":{"name":"grid"},"mark":{"type":"rule","color":"#000","strokeWidth":1,"strokeDash":[3,2]},
 "encoding":{"x":{"field":"i","type":"quantitative"}}},
{"data":{"name":"candles"},"mark":{"type":"rule","color":"#000","strokeWidth":1},
 "encoding":{"x":{"field":"i","type":"quantitative"},"y":{"field":"l","type":"quantitative"},"y2":{"field":"h"}}},
{"data":{"name":"candles"},"mark":{"type":"rect","stroke":"#000","strokeWidth":1,"xOffset":-1,"x2Offset":1},
 "encoding":{"x":{"field":"i","type":"quantitative"},"x2":{"field":"i"},
 "y":{"field":"o","type":"quantitative"},"y2":{"field":"c"},
 "fill":{"condition":{"test":"datum.c >= datum.o","value":"#30A830"},"value":"#E31B1B"}}},
{"data":{"name":"zones"},"mark":{"type":"rect","filled":false,"strokeWidth":3},
 "encoding":{"x":{"field":"i","type":"quantitative"},"x2":{"field":"i2"},
 "y":{"field":"p","type":"quantitative"},"y2":{"field":"p2"},
 "stroke":{"field":"set","type":"nominal","scale":{"domain":["sell","buy","month"],"range":["#FFA500","#1E90FF","#FF0000"]},"legend":null}}},
{"data":{"name":"vlines"},"mark":{"type":"rule","color":"#1E82E6","strokeWidth":2},
 "encoding":{"x":{"field":"i","type":"quantitative"}}},
{"data":{"name":"nkzlines"},"mark":{"type":"rule","color":"#87CEEB","strokeWidth":1},
 "encoding":{"x":{"field":"i","type":"quantitative"},"y":{"field":"p","type":"quantitative"},"y2":{"field":"p2"}}},
{"data":{"name":"forecast"},"mark":{"type":"line","color":"#000","strokeWidth":1.6},
 "encoding":{"x":{"field":"i","type":"quantitative"},"y":{"field":"p","type":"quantitative"},
 "detail":{"field":"seg"},"order":{"field":"k","type":"quantitative"}}},
{"data":{"name":"tags"},"mark":{"type":"rule","color":"#000","strokeWidth":1},
 "encoding":{"x":{"field":"i","type":"quantitative"},"x2":{"field":"i2"},"y":{"field":"p","type":"quantitative"}}},
{"data":{"name":"tags"},"mark":{"type":"rect","fill":"#fff","stroke":"#000","strokeWidth":1,"xOffset":-36,"x2Offset":0,"yOffset":-6,"y2Offset":6},
 "encoding":{"x":{"field":"i","type":"quantitative"},"x2":{"field":"i"},"y":{"field":"p","type":"quantitative"},"y2":{"field":"p"}}},
{"data":{"name":"tags"},"mark":{"type":"text","font":"Liberation Sans","fontSize":11,"color":"#000","align":"center","baseline":"middle","dx":-18},
 "encoding":{"x":{"field":"i","type":"quantitative"},"y":{"field":"p","type":"quantitative"},"text":{"field":"t"}}},
{"data":{"name":"labels"},"mark":{"type":"text","font":"Liberation Sans","fontSize":12,"color":"#141432","align":"left","baseline":"middle"},
 "encoding":{"x":{"field":"i","type":"quantitative"},"y":{"field":"p","type":"quantitative"},"text":{"field":"t"}}},
{"data":{"name":"info"},"mark":{"type":"text","font":"Liberation Sans","fontSize":10,"color":"#000","align":"left","baseline":"middle"},
 "encoding":{"x":{"field":"i","type":"quantitative"},"y":{"field":"p","type":"quantitative"},"text":{"field":"t"}}},
{"data":{"name":"price"},"mark":{"type":"text","font":"DejaVu Sans","fontSize":12,"fontWeight":"bold","color":"#2E8B57","align":"right","baseline":"middle"},
 "encoding":{"x":{"field":"i","type":"quantitative"},"y":{"field":"p","type":"quantitative"},"text":{"field":"t"}}},
{"data":{"name":"counts"},"mark":{"type":"text","font":"Liberation Sans","fontSize":12,"color":"#FF4500","align":"left","baseline":"middle"},
 "encoding":{"x":{"field":"i","type":"quantitative"},"y":{"field":"p","type":"quantitative"},"text":{"field":"t"}}},
{"data":{"name":"bottom"},"mark":{"type":"text","font":"DejaVu Sans","fontSize":13.5,"fontWeight":"bold","align":"left","baseline":"middle"},
 "encoding":{"x":{"field":"i","type":"quantitative"},"y":{"field":"p","type":"quantitative"},"text":{"field":"t"},
 "color":{"field":"kind","type":"nominal","scale":{"domain":["atr","margin","rate"],"range":["#2E8B57","#1E90FF","#1E90FF"]},"legend":null}}},
{"data":{"name":"marks"},"mark":{"type":"rect","fill":"#0078D7","xOffset":-40,"x2Offset":40,"yOffset":-7,"y2Offset":7},
 "encoding":{"x":{"field":"i","type":"quantitative"},"x2":{"field":"i"},"y":{"field":"p","type":"quantitative"},"y2":{"field":"p"}}},
{"data":{"name":"marks"},"mark":{"type":"text","font":"Liberation Sans","fontSize":9.5,"color":"#fff","align":"center","baseline":"middle"},
 "encoding":{"x":{"field":"i","type":"quantitative"},"y":{"field":"p","type":"quantitative"},"text":{"field":"t"}}},
{"data":{"name":"margins"},"mark":{"type":"text","font":"Liberation Sans","fontSize":10,"color":"#000","align":"left","baseline":"bottom","angle":270},
 "encoding":{"x":{"field":"i","type":"quantitative"},"y":{"field":"p","type":"quantitative"},"text":{"field":"t"}}},
{"data":{"name":"wm"},"mark":{"type":"rect","fill":"#C82828","opacity":0.4},
 "encoding":{"x":{"field":"i","type":"quantitative"},"x2":{"field":"i2"},"y":{"field":"p","type":"quantitative"},"y2":{"field":"p2"}}},
{"data":{"name":"wmtext"},"mark":{"type":"text","font":"Liberation Sans","fontSize":34,"color":"#fff","opacity":0.9,"align":"center","baseline":"middle"},
 "encoding":{"x":{"field":"i","type":"quantitative"},"y":{"field":"p","type":"quantitative"},"text":{"field":"t"}}},
{"data":{"name":"cur"},"mark":{"type":"rect","fill":"#000","xOffset":1,"x2Offset":38,"yOffset":-7,"y2Offset":7},
 "encoding":{"x":{"field":"i","type":"quantitative"},"x2":{"field":"i"},"y":{"field":"p","type":"quantitative"},"y2":{"field":"p"}}},
{"data":{"name":"cur"},"mark":{"type":"text","font":"Liberation Sans","fontSize":9.5,"color":"#fff","align":"left","baseline":"middle","dx":6},
 "encoding":{"x":{"field":"i","type":"quantitative"},"y":{"field":"p","type":"quantitative"},"text":{"field":"t"}}},
{"data":{"name":"clock"},"mark":{"type":"text","font":"Liberation Sans","fontSize":11.5,"color":"#222","align":"right","baseline":"middle"},
 "encoding":{"x":{"field":"i","type":"quantitative"},"y":{"field":"p","type":"quantitative"},"text":{"field":"t"}}}
]
}
